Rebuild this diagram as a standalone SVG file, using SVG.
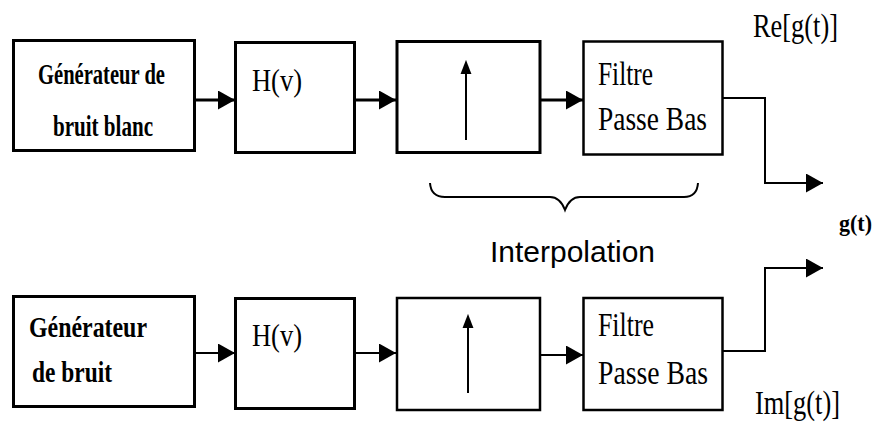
<svg xmlns="http://www.w3.org/2000/svg" width="878" height="425" viewBox="0 0 878 425">
<style>
.box{fill:#fff;stroke:#000;stroke-width:3}
.box2{fill:#fff;stroke:#000;stroke-width:2.5}
.ser{font-family:"Liberation Serif","Times New Roman",serif;fill:#000}
.b{font-weight:bold}
.con{fill:none;stroke:#000;stroke-width:3}
.con2{fill:none;stroke:#000;stroke-width:2}
.sans{font-family:"Liberation Sans",Arial,sans-serif;fill:#000}
</style>
<defs>
<marker id="ah" markerUnits="userSpaceOnUse" markerWidth="17" markerHeight="19" refX="17" refY="9.5" orient="auto" viewBox="0 0 17 19">
<path d="M0,0 L17,9.5 L0,19 z" fill="#000"/>
</marker>
<marker id="ahs" markerUnits="userSpaceOnUse" markerWidth="14" markerHeight="18" refX="14" refY="7" orient="auto" viewBox="0 0 18 14">
<path d="M0,0 L18,7 L0,14 z" fill="#000"/>
</marker>
</defs>
<rect width="878" height="425" fill="#fff"/>

<g id="connectors">
<path class="con" d="M194,100 H235" marker-end="url(#ah)"/>
<path class="con" d="M355,100 H396" marker-end="url(#ah)"/>
<path class="con" d="M540,100 H583" marker-end="url(#ah)"/>
<path class="con2" d="M723,98 H765 V183 H823" marker-end="url(#ah)"/>
<path class="con2" d="M194,353 H235" marker-end="url(#ah)"/>
<path class="con2" d="M355,353 H396" marker-end="url(#ah)"/>
<path class="con2" d="M540,355 H583" marker-end="url(#ah)"/>
<path class="con2" d="M723,351 H765 V268 H823" marker-end="url(#ah)"/>
</g>

<g id="gen1">
<rect class="box" x="13.5" y="40.5" width="181" height="110"/>
<text class="ser b" x="38" y="84" font-size="29" textLength="127" lengthAdjust="spacingAndGlyphs">Générateur de</text>
<text class="ser b" x="53" y="136" font-size="29" textLength="100" lengthAdjust="spacingAndGlyphs">bruit blanc</text>
</g>
<g id="h1">
<rect class="box" x="235.5" y="42.5" width="119" height="110"/>
<text class="ser" x="252" y="91" font-size="32" textLength="50" lengthAdjust="spacingAndGlyphs">H(v)</text>
</g>
<g id="up1">
<rect class="box" x="397" y="41.5" width="143" height="111"/>
<path class="con2" d="M466,140 V63" marker-end="url(#ahs)"/>
</g>
<g id="lpf1">
<rect class="box2" x="583.5" y="41.5" width="139" height="113"/>
<text class="ser" x="598" y="85" font-size="33" textLength="55" lengthAdjust="spacingAndGlyphs">Filtre</text>
<text class="ser" x="598" y="130" font-size="33" textLength="109" lengthAdjust="spacingAndGlyphs">Passe Bas</text>
</g>

<g id="gen2">
<rect class="box" x="13.5" y="296.5" width="181" height="110"/>
<text class="ser b" x="29" y="337" font-size="30" textLength="118" lengthAdjust="spacingAndGlyphs">Générateur</text>
<text class="ser b" x="32" y="382" font-size="30" textLength="80" lengthAdjust="spacingAndGlyphs">de bruit</text>
</g>
<g id="h2">
<rect class="box" x="235.5" y="298.5" width="119" height="110"/>
<text class="ser" x="252" y="346" font-size="32" textLength="50" lengthAdjust="spacingAndGlyphs">H(v)</text>
</g>
<g id="up2">
<rect class="box2" x="397" y="298" width="143" height="112"/>
<path class="con2" d="M468,393 V317" marker-end="url(#ahs)"/>
</g>
<g id="lpf2">
<rect class="box2" x="583.5" y="298" width="139" height="112"/>
<text class="ser" x="598" y="336" font-size="33" textLength="56" lengthAdjust="spacingAndGlyphs">Filtre</text>
<text class="ser" x="598" y="384" font-size="33" textLength="110" lengthAdjust="spacingAndGlyphs">Passe Bas</text>
</g>

<g id="interp">
<path fill="none" stroke="#000" stroke-width="2" d="M430,183 Q431,197 445,197 H550 Q560,197 565,210 Q570,197 580,197 H684 Q697,197 698,183"/>
<text class="sans" x="490" y="262" font-size="30" textLength="165" lengthAdjust="spacingAndGlyphs">Interpolation</text>
</g>

<g id="labels">
<text class="ser" x="753" y="37" font-size="34" textLength="85" lengthAdjust="spacingAndGlyphs">Re[g(t)]</text>
<text class="ser b" x="839" y="231" font-size="24" textLength="33" lengthAdjust="spacingAndGlyphs">g(t)</text>
<text class="ser" x="755" y="414" font-size="34" textLength="85" lengthAdjust="spacingAndGlyphs">Im[g(t)]</text>
</g>
</svg>
